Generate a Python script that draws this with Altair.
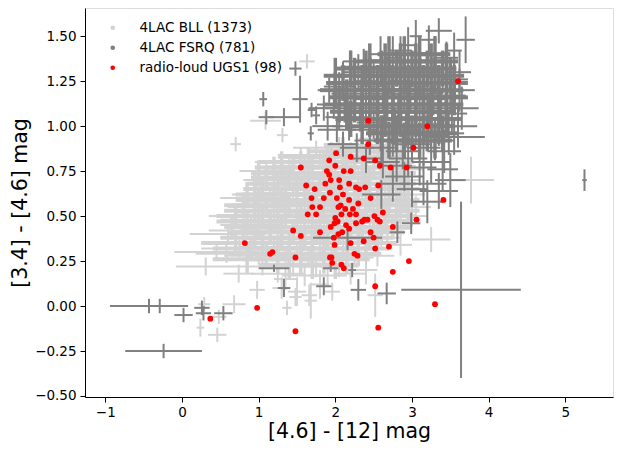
import altair as alt
import pandas as pd

# ---------------- data ----------------
# 4LAC BLL, scattered members: colour [4.6]-[12], colour [3.4]-[4.6], x error, y error
bll_x = [1.75, 2.05, 2.30, 2.55, 1.95, 2.70, 2.85, 2.45,
         1.40, 1.60, 1.80, 2.00, 2.20, 2.40, 2.60, 2.80, 1.55, 2.95,
         1.20, 1.35, 1.55, 1.70, 1.85, 2.00, 2.15, 2.30, 2.45, 2.60, 2.75, 2.90, 1.45, 1.10,
         0.95, 1.15, 1.30, 1.45, 1.60, 1.75, 1.90, 2.05, 2.20, 2.35, 2.50, 2.65, 2.80, 2.95, 3.05, 1.00,
         0.80, 1.00, 1.20, 1.35, 1.50, 1.65, 1.80, 1.95, 2.10, 2.25, 2.40, 2.55, 2.70, 2.85, 0.90, 3.00,
         0.60, 0.85, 1.05, 1.25, 1.40, 1.55, 1.70, 1.85, 2.00, 2.15, 2.30, 2.45, 2.60, 2.75, 2.85, 3.25, 2.68,
         0.45, 0.75, 1.00, 1.20, 1.35, 1.50, 1.65, 1.80, 1.95, 2.10, 2.25, 2.40, 2.55, 0.58,
         0.31, 0.74, 1.05, 1.25, 1.45, 1.60, 1.75, 1.90, 2.05, 2.20, 2.40, 1.35,
         0.98, 1.30, 1.50, 1.66, 1.96, 2.52, 1.80, 1.48, 1.68, 0.68, 0.29, 1.37,
         0.48, 0.46, 0.24,
         1.63, 0.70, 1.31, 1.09, 3.77]
bll_y = [0.88, 0.90, 0.86, 0.88, 0.84, 0.85, 0.90, 0.93,
         0.80, 0.78, 0.82, 0.78, 0.80, 0.77, 0.80, 0.78, 0.84, 0.76,
         0.70, 0.72, 0.68, 0.73, 0.68, 0.72, 0.67, 0.72, 0.68, 0.72, 0.67, 0.70, 0.66, 0.75,
         0.60, 0.62, 0.58, 0.63, 0.58, 0.62, 0.57, 0.62, 0.57, 0.62, 0.58, 0.62, 0.57, 0.62, 0.55, 0.55,
         0.50, 0.48, 0.52, 0.47, 0.53, 0.48, 0.52, 0.47, 0.52, 0.47, 0.52, 0.47, 0.52, 0.48, 0.45, 0.50,
         0.40, 0.42, 0.38, 0.42, 0.37, 0.42, 0.38, 0.42, 0.37, 0.42, 0.38, 0.42, 0.38, 0.43, 0.34, 0.37, 0.42,
         0.30, 0.32, 0.28, 0.33, 0.28, 0.32, 0.27, 0.32, 0.28, 0.32, 0.27, 0.32, 0.28, 0.29,
         0.22, 0.18, 0.22, 0.18, 0.22, 0.17, 0.22, 0.17, 0.22, 0.18, 0.20, 0.15,
         0.09, 0.10, 0.08, 0.06, 0.08, 0.06, 0.12, 0.05, 0.03, 0.01, 0.01, -0.01,
         -0.06, -0.16, -0.12,
         1.36, 0.90, 0.95, 1.03, 0.70]
bll_xerr = [0.30, 0.20, 0.25, 0.20, 0.35, 0.22, 0.20, 0.15,
            0.45, 0.40, 0.35, 0.30, 0.25, 0.25, 0.22, 0.25, 0.30, 0.20,
            0.40, 0.45, 0.45, 0.40, 0.35, 0.30, 0.30, 0.28, 0.25, 0.25, 0.25, 0.20, 0.50, 0.35,
            0.45, 0.50, 0.50, 0.45, 0.45, 0.40, 0.35, 0.30, 0.30, 0.28, 0.25, 0.25, 0.25, 0.22, 0.20, 0.40,
            0.45, 0.50, 0.50, 0.50, 0.45, 0.45, 0.40, 0.35, 0.30, 0.30, 0.28, 0.25, 0.25, 0.25, 0.40, 0.20,
            0.50, 0.50, 0.50, 0.50, 0.45, 0.45, 0.40, 0.35, 0.30, 0.30, 0.28, 0.25, 0.25, 0.22, 0.15, 0.25, 0.10,
            0.55, 0.50, 0.45, 0.45, 0.40, 0.40, 0.35, 0.35, 0.30, 0.28, 0.25, 0.25, 0.22, 0.40,
            0.39, 0.20, 0.35, 0.35, 0.30, 0.30, 0.25, 0.25, 0.25, 0.20, 0.15, 0.15,
            0.10, 0.12, 0.12, 0.10, 0.10, 0.10, 0.12, 0.08, 0.08, 0.15, 0.08, 0.06,
            0.10, 0.12, 0.05,
            0.10, 0.07, 0.07, 0.20, 0.30]
bll_yerr = [0.04, 0.04, 0.05, 0.05, 0.04, 0.06, 0.06, 0.05,
            0.04, 0.04, 0.04, 0.04, 0.04, 0.05, 0.05, 0.06, 0.04, 0.06,
            0.04, 0.04, 0.04, 0.04, 0.04, 0.04, 0.04, 0.04, 0.05, 0.05, 0.05, 0.06, 0.04, 0.04,
            0.04, 0.04, 0.04, 0.04, 0.04, 0.04, 0.04, 0.04, 0.04, 0.04, 0.05, 0.05, 0.05, 0.06, 0.06, 0.04,
            0.04, 0.04, 0.04, 0.04, 0.04, 0.04, 0.04, 0.04, 0.04, 0.04, 0.04, 0.05, 0.05, 0.05, 0.04, 0.06,
            0.05, 0.05, 0.04, 0.04, 0.04, 0.04, 0.04, 0.04, 0.04, 0.04, 0.05, 0.05, 0.05, 0.05, 0.06, 0.07, 0.06,
            0.05, 0.05, 0.05, 0.04, 0.04, 0.04, 0.05, 0.05, 0.05, 0.05, 0.05, 0.05, 0.06, 0.05,
            0.05, 0.05, 0.05, 0.05, 0.05, 0.06, 0.06, 0.06, 0.06, 0.06, 0.08, 0.06,
            0.05, 0.06, 0.08, 0.06, 0.05, 0.12, 0.08, 0.05, 0.10, 0.05, 0.04, 0.04,
            0.04, 0.04, 0.05,
            0.04, 0.04, 0.04, 0.05, 0.13]

# 4LAC BLL, members of the crowded core of the cloud
bllc_x = [2.10, 2.35, 2.60,
          1.95, 2.20, 2.45, 2.70,
          1.65, 1.90, 2.15, 2.40, 2.65,
          1.30, 1.55, 1.85, 2.10, 2.35, 2.60, 2.85,
          1.20, 1.45, 1.70, 1.95, 2.25, 2.50, 2.75,
          1.00, 1.30, 1.60, 1.85, 2.10, 2.40, 2.65, 2.90,
          1.10, 1.40, 1.65, 1.95, 2.20, 2.45, 2.70,
          0.95, 1.25, 1.50, 1.80, 2.05, 2.35, 2.60, 2.85,
          1.05, 1.35, 1.60, 1.90, 2.15, 2.40, 2.70, 2.95,
          0.85, 1.20, 1.50, 1.75, 2.00, 2.30, 2.55, 2.80,
          1.00, 1.30, 1.65, 1.95, 2.25, 2.45, 2.70, 2.90,
          0.80, 1.10, 1.40, 1.70, 2.00, 2.30, 2.60, 2.85,
          0.95, 1.25, 1.55, 1.85, 2.15, 2.40, 2.65, 2.95,
          0.70, 1.05, 1.35, 1.70, 2.00, 2.30, 2.55, 2.80,
          0.85, 1.15, 1.50, 1.80, 2.05, 2.35, 2.65,
          0.65, 1.00, 1.30, 1.60, 1.90, 2.20, 2.50, 2.75,
          0.80, 1.15, 1.45, 1.75, 2.05, 2.35, 2.60,
          0.95, 1.30, 1.60, 1.90, 2.20, 2.45,
          0.70, 1.05, 1.40, 1.70, 2.00, 2.30, 2.55,
          0.90, 1.25, 1.55, 1.85, 2.15, 2.40,
          1.10, 1.40, 1.70, 2.00, 2.30,
          0.85, 1.25, 1.55, 1.85, 2.15,
          1.40, 1.70, 2.00]
bllc_y = [0.89, 0.89, 0.89,
          0.86, 0.86, 0.86, 0.86,
          0.83, 0.83, 0.83, 0.83, 0.83,
          0.80, 0.80, 0.80, 0.80, 0.80, 0.80, 0.80,
          0.77, 0.77, 0.77, 0.77, 0.77, 0.77, 0.77,
          0.74, 0.74, 0.74, 0.74, 0.74, 0.74, 0.74, 0.74,
          0.71, 0.71, 0.71, 0.71, 0.71, 0.71, 0.71,
          0.68, 0.68, 0.68, 0.68, 0.68, 0.68, 0.68, 0.68,
          0.65, 0.65, 0.65, 0.65, 0.65, 0.65, 0.65, 0.65,
          0.62, 0.62, 0.62, 0.62, 0.62, 0.62, 0.62, 0.62,
          0.59, 0.59, 0.59, 0.59, 0.59, 0.59, 0.59, 0.59,
          0.56, 0.56, 0.56, 0.56, 0.56, 0.56, 0.56, 0.56,
          0.53, 0.53, 0.53, 0.53, 0.53, 0.53, 0.53, 0.53,
          0.50, 0.50, 0.50, 0.50, 0.50, 0.50, 0.50, 0.50,
          0.47, 0.47, 0.47, 0.47, 0.47, 0.47, 0.47,
          0.44, 0.44, 0.44, 0.44, 0.44, 0.44, 0.44, 0.44,
          0.41, 0.41, 0.41, 0.41, 0.41, 0.41, 0.41,
          0.38, 0.38, 0.38, 0.38, 0.38, 0.38,
          0.35, 0.35, 0.35, 0.35, 0.35, 0.35, 0.35,
          0.32, 0.32, 0.32, 0.32, 0.32, 0.32,
          0.29, 0.29, 0.29, 0.29, 0.29,
          0.26, 0.26, 0.26, 0.26, 0.26,
          0.23, 0.23, 0.23]
bllc_xerr = [0.25, 0.22, 0.20,
             0.30, 0.25, 0.22, 0.20,
             0.40, 0.30, 0.28, 0.25, 0.22,
             0.30, 0.35, 0.30, 0.28, 0.25, 0.22, 0.18,
             0.25, 0.35, 0.35, 0.30, 0.28, 0.25, 0.22,
             0.10, 0.35, 0.35, 0.30, 0.28, 0.25, 0.22, 0.15,
             0.20, 0.40, 0.35, 0.30, 0.28, 0.25, 0.22,
             0.10, 0.35, 0.40, 0.35, 0.30, 0.28, 0.25, 0.20,
             0.25, 0.40, 0.40, 0.35, 0.30, 0.28, 0.25, 0.15,
             0.15, 0.40, 0.45, 0.40, 0.35, 0.30, 0.28, 0.22,
             0.30, 0.45, 0.45, 0.40, 0.35, 0.30, 0.28, 0.20,
             0.25, 0.45, 0.45, 0.40, 0.35, 0.30, 0.28, 0.22,
             0.40, 0.50, 0.45, 0.40, 0.35, 0.30, 0.28, 0.15,
             0.25, 0.50, 0.50, 0.45, 0.40, 0.35, 0.30, 0.25,
             0.40, 0.50, 0.50, 0.45, 0.40, 0.35, 0.30,
             0.10, 0.40, 0.50, 0.45, 0.40, 0.35, 0.30, 0.25,
             0.20, 0.50, 0.50, 0.45, 0.40, 0.35, 0.30,
             0.45, 0.50, 0.45, 0.40, 0.35, 0.30,
             0.45, 0.50, 0.50, 0.45, 0.40, 0.35, 0.25,
             0.50, 0.50, 0.45, 0.40, 0.35, 0.30,
             0.50, 0.45, 0.40, 0.35, 0.30,
             0.45, 0.45, 0.40, 0.35, 0.30,
             0.40, 0.35, 0.30]
bllc_yerr = [0.05, 0.05, 0.05,
             0.05, 0.05, 0.05, 0.05,
             0.05, 0.05, 0.05, 0.05, 0.05,
             0.06, 0.06, 0.06, 0.06, 0.06, 0.06, 0.06,
             0.06, 0.06, 0.06, 0.06, 0.06, 0.06, 0.06,
             0.07, 0.07, 0.07, 0.07, 0.07, 0.07, 0.07, 0.07,
             0.07, 0.07, 0.07, 0.07, 0.07, 0.07, 0.07,
             0.07, 0.07, 0.07, 0.07, 0.07, 0.07, 0.07, 0.07,
             0.07, 0.07, 0.07, 0.07, 0.07, 0.07, 0.07, 0.07,
             0.07, 0.07, 0.07, 0.07, 0.07, 0.07, 0.07, 0.07,
             0.07, 0.07, 0.07, 0.07, 0.07, 0.07, 0.07, 0.07,
             0.07, 0.07, 0.07, 0.07, 0.07, 0.07, 0.07, 0.07,
             0.07, 0.07, 0.07, 0.07, 0.07, 0.07, 0.07, 0.07,
             0.07, 0.07, 0.07, 0.07, 0.07, 0.07, 0.07, 0.07,
             0.07, 0.07, 0.07, 0.07, 0.07, 0.07, 0.07,
             0.07, 0.07, 0.07, 0.07, 0.07, 0.07, 0.07, 0.07,
             0.07, 0.07, 0.07, 0.07, 0.07, 0.07, 0.07,
             0.07, 0.07, 0.07, 0.07, 0.07, 0.07,
             0.07, 0.07, 0.07, 0.07, 0.07, 0.07, 0.07,
             0.07, 0.07, 0.07, 0.07, 0.07, 0.07,
             0.07, 0.07, 0.07, 0.07, 0.07,
             0.08, 0.08, 0.08, 0.08, 0.08,
             0.08, 0.08, 0.08]

# 4LAC FSRQ, scattered members
fsrq_x = [3.22, 3.35, 3.70, 2.95, 3.05,
          2.37, 2.59, 2.75, 2.85, 3.10, 3.30, 3.45, 3.55, 2.20, 3.62,
          2.10, 2.30, 2.50, 2.65, 2.80, 2.95, 3.10, 3.25, 3.40, 3.55, 2.40, 2.85,
          1.92, 2.05, 2.20, 2.35, 2.50, 2.62, 2.75, 2.90, 3.05, 3.20, 3.35, 3.50, 3.62, 2.45, 2.98, 3.28,
          1.85, 1.98, 2.12, 2.25, 2.40, 2.55, 2.68, 2.82, 2.95, 3.10, 3.22, 3.38, 3.52, 3.65, 2.05, 2.32, 2.75, 3.05,
          1.90, 2.02, 2.18, 2.35, 2.50, 2.62, 2.78, 2.92, 3.05, 3.20, 3.35, 3.48, 3.60, 3.55,
          2.10, 2.28, 2.45, 2.60, 2.75, 2.88, 3.00, 3.15, 3.30, 3.42, 3.25,
          2.40, 2.62, 2.80, 2.95, 3.10, 3.25, 3.40, 2.90,
          2.75, 3.00, 3.15, 3.35, 3.50, 2.60, 3.20,
          1.06, 1.10, 1.33, 1.54, 1.48, 1.69, 1.68, 1.75,
          2.16, 2.81, 2.99, 2.67, 2.30, 2.22, 1.85, 1.33, 1.20, 1.94, 3.64, 5.25,
          -0.43, -0.29, -0.24, 0.02, 0.26, 0.54, 0.28]
fsrq_y = [1.48, 1.53, 1.48, 1.45, 1.50,
          1.33, 1.40, 1.38, 1.42, 1.40, 1.40, 1.38, 1.42, 1.36, 1.30,
          1.28, 1.30, 1.28, 1.30, 1.32, 1.30, 1.28, 1.30, 1.28, 1.26, 1.25, 1.25,
          1.20, 1.22, 1.18, 1.20, 1.22, 1.18, 1.20, 1.18, 1.22, 1.18, 1.20, 1.17, 1.20, 1.15, 1.15, 1.15,
          1.10, 1.12, 1.10, 1.12, 1.08, 1.10, 1.12, 1.08, 1.10, 1.12, 1.08, 1.10, 1.07, 1.10, 1.05, 1.05, 1.04, 1.05,
          1.00, 0.98, 1.00, 0.98, 1.02, 0.97, 1.00, 0.98, 1.00, 0.97, 1.00, 0.96, 1.00, 0.94,
          0.90, 0.88, 0.92, 0.88, 0.92, 0.86, 0.90, 0.88, 0.92, 0.86, 0.95,
          0.82, 0.80, 0.78, 0.82, 0.77, 0.80, 0.76, 0.72,
          0.68, 0.65, 0.68, 0.64, 0.70, 0.62, 0.58,
          1.15, 1.05, 1.05, 1.15, 1.32, 1.09, 0.96, 1.06,
          0.38, 0.41, 0.46, 0.07, 0.09, 0.20, 0.11, 0.10, 0.21, 0.21, 0.09, 0.70,
          0.00, 0.00, -0.25, -0.05, -0.01, -0.04, -0.04]
fsrq_xerr = [0.10, 0.17, 0.12, 0.10, 0.08,
             0.30, 0.15, 0.12, 0.15, 0.12, 0.18, 0.15, 0.10, 0.10, 0.15,
             0.25, 0.20, 0.18, 0.20, 0.15, 0.18, 0.20, 0.15, 0.20, 0.18, 0.15, 0.15,
             0.15, 0.20, 0.25, 0.20, 0.20, 0.18, 0.20, 0.22, 0.18, 0.20, 0.22, 0.20, 0.20, 0.18, 0.15, 0.15,
             0.20, 0.22, 0.25, 0.20, 0.22, 0.20, 0.22, 0.20, 0.22, 0.20, 0.25, 0.22, 0.20, 0.22, 0.18, 0.15, 0.15, 0.18,
             0.20, 0.25, 0.22, 0.20, 0.22, 0.20, 0.22, 0.20, 0.25, 0.22, 0.25, 0.20, 0.25, 0.40,
             0.20, 0.22, 0.20, 0.22, 0.20, 0.22, 0.25, 0.22, 0.25, 0.22, 0.20,
             0.20, 0.22, 0.20, 0.25, 0.22, 0.25, 0.20, 0.25,
             0.22, 0.20, 0.30, 0.25, 0.20, 0.25, 0.20,
             0.05, 0.10, 0.20, 0.10, 0.08, 0.05, 0.04, 0.05,
             0.45, 0.10, 0.12, 0.12, 0.10, 0.05, 0.10, 0.08, 0.20, 0.10, 0.78, 0.03,
             0.51, 0.25, 0.50, 0.12, 0.10, 0.12, 0.10]
fsrq_yerr = [0.08, 0.07, 0.13, 0.10, 0.09,
             0.10, 0.10, 0.12, 0.08, 0.10, 0.10, 0.09, 0.10, 0.06, 0.12,
             0.08, 0.10, 0.09, 0.10, 0.10, 0.10, 0.12, 0.10, 0.10, 0.10, 0.08, 0.09,
             0.07, 0.08, 0.08, 0.09, 0.10, 0.09, 0.10, 0.10, 0.10, 0.10, 0.11, 0.10, 0.12, 0.08, 0.08, 0.09,
             0.07, 0.08, 0.08, 0.09, 0.09, 0.10, 0.09, 0.10, 0.10, 0.10, 0.10, 0.11, 0.12, 0.12, 0.07, 0.08, 0.08, 0.09,
             0.08, 0.07, 0.08, 0.08, 0.09, 0.09, 0.10, 0.10, 0.10, 0.10, 0.11, 0.12, 0.12, 0.10,
             0.07, 0.08, 0.08, 0.09, 0.09, 0.10, 0.10, 0.10, 0.11, 0.12, 0.10,
             0.08, 0.09, 0.09, 0.10, 0.10, 0.12, 0.12, 0.08,
             0.10, 0.10, 0.12, 0.10, 0.15, 0.08, 0.12,
             0.04, 0.04, 0.05, 0.13, 0.04, 0.04, 0.04, 0.05,
             0.07, 0.06, 0.06, 0.06, 0.06, 0.04, 0.05, 0.05, 0.02, 0.02, 0.49, 0.06,
             0.04, 0.04, 0.04, 0.04, 0.04, 0.04, 0.04]

# 4LAC FSRQ, members of the crowded core
fsrqc_x = [2.70, 2.90, 3.10, 3.30,
           2.45, 2.65, 2.85, 3.05, 3.25, 3.45,
           2.20, 2.40, 2.60, 2.80, 3.00, 3.20, 3.40,
           2.00, 2.25, 2.45, 2.70, 2.90, 3.10, 3.30, 3.50,
           2.10, 2.35, 2.55, 2.75, 2.95, 3.15, 3.35, 3.55,
           2.00, 2.25, 2.45, 2.65, 2.85, 3.05, 3.25, 3.45,
           2.15, 2.35, 2.55, 2.75, 2.95, 3.15, 3.35, 3.55,
           2.05, 2.25, 2.45, 2.65, 2.85, 3.05, 3.25, 3.45,
           2.15, 2.35, 2.55, 2.75, 2.95, 3.15, 3.35,
           2.20, 2.45, 2.65, 2.85, 3.05, 3.25, 3.45,
           2.35, 2.55, 2.75, 2.95, 3.15, 3.35,
           2.60, 2.80, 3.00, 3.20, 3.40,
           2.70, 2.90, 3.10, 3.30]
fsrqc_y = [1.40, 1.40, 1.40, 1.40,
           1.36, 1.36, 1.36, 1.36, 1.36, 1.36,
           1.32, 1.32, 1.32, 1.32, 1.32, 1.32, 1.32,
           1.28, 1.28, 1.28, 1.28, 1.28, 1.28, 1.28, 1.28,
           1.24, 1.24, 1.24, 1.24, 1.24, 1.24, 1.24, 1.24,
           1.20, 1.20, 1.20, 1.20, 1.20, 1.20, 1.20, 1.20,
           1.16, 1.16, 1.16, 1.16, 1.16, 1.16, 1.16, 1.16,
           1.12, 1.12, 1.12, 1.12, 1.12, 1.12, 1.12, 1.12,
           1.08, 1.08, 1.08, 1.08, 1.08, 1.08, 1.08,
           1.04, 1.04, 1.04, 1.04, 1.04, 1.04, 1.04,
           1.00, 1.00, 1.00, 1.00, 1.00, 1.00,
           0.96, 0.96, 0.96, 0.96, 0.96,
           0.92, 0.92, 0.92, 0.92]
fsrqc_xerr = [0.15, 0.18, 0.15, 0.20,
              0.20, 0.18, 0.20, 0.18, 0.20, 0.15,
              0.20, 0.22, 0.20, 0.18, 0.20, 0.22, 0.18,
              0.15, 0.22, 0.20, 0.22, 0.20, 0.22, 0.20, 0.18,
              0.22, 0.20, 0.22, 0.20, 0.22, 0.20, 0.22, 0.18,
              0.20, 0.22, 0.20, 0.22, 0.20, 0.22, 0.20, 0.22,
              0.22, 0.20, 0.22, 0.20, 0.22, 0.20, 0.22, 0.18,
              0.20, 0.22, 0.20, 0.22, 0.20, 0.22, 0.20, 0.22,
              0.22, 0.20, 0.22, 0.20, 0.22, 0.20, 0.22,
              0.20, 0.22, 0.20, 0.22, 0.20, 0.22, 0.20,
              0.22, 0.20, 0.22, 0.20, 0.22, 0.20,
              0.20, 0.22, 0.20, 0.22, 0.20,
              0.20, 0.22, 0.20, 0.22]
fsrqc_yerr = [0.10, 0.10, 0.10, 0.10,
              0.10, 0.10, 0.10, 0.10, 0.10, 0.10,
              0.10, 0.10, 0.10, 0.10, 0.10, 0.10, 0.10,
              0.10, 0.10, 0.10, 0.10, 0.10, 0.10, 0.10, 0.10,
              0.10, 0.10, 0.10, 0.10, 0.10, 0.10, 0.10, 0.10,
              0.10, 0.10, 0.10, 0.10, 0.10, 0.10, 0.10, 0.10,
              0.10, 0.10, 0.10, 0.10, 0.10, 0.10, 0.10, 0.10,
              0.10, 0.10, 0.10, 0.10, 0.10, 0.10, 0.10, 0.10,
              0.10, 0.10, 0.10, 0.10, 0.10, 0.10, 0.10,
              0.10, 0.10, 0.10, 0.10, 0.10, 0.10, 0.10,
              0.10, 0.10, 0.10, 0.10, 0.10, 0.10,
              0.10, 0.10, 0.10, 0.10, 0.10,
              0.10, 0.10, 0.10, 0.10]

# radio-loud UGS1 (98)
ugs_x = [3.60, 2.43, 3.20, 2.43, 3.02, 2.01, 2.20, 2.37, 2.52, 1.92,
         2.00, 2.58, 2.72, 2.93, 1.55, 1.89, 2.11, 2.20, 1.92, 1.94,
         1.87, 2.18, 1.62, 1.73, 2.06, 2.27, 2.31, 2.39, 2.56, 1.93,
         1.69, 2.02, 2.18, 2.46, 3.41, 2.07, 1.80, 2.13, 2.04, 2.23,
         1.64, 1.75, 2.00, 2.08, 2.19, 2.27, 2.62, 2.38, 2.42, 2.51,
         2.55, 3.06, 2.03, 2.14, 2.27, 2.58, 2.75, 1.45, 1.99, 1.55,
         1.80, 1.94, 2.04, 2.09, 2.18, 2.46, 2.50, 2.37, 2.20, 1.99,
         2.70, 2.52, 0.82, 1.15, 1.48, 1.93, 2.25, 2.29, 1.96, 2.08,
         2.11, 2.96, 2.75, 2.52, 0.98, 3.30, 2.56, 1.48, 0.37, 1.95,
         1.18, 2.10, 1.85, 2.30, 2.05, 1.70, 2.35, 1.98]
ugs_y = [1.25, 1.03, 1.00, 0.90, 0.88, 0.85, 0.83, 0.82, 0.81, 0.81,
         0.78, 0.78, 0.77, 0.77, 0.77, 0.75, 0.75, 0.75, 0.73, 0.70,
         0.68, 0.68, 0.67, 0.65, 0.66, 0.66, 0.65, 0.66, 0.67, 0.63,
         0.60, 0.60, 0.59, 0.60, 0.59, 0.56, 0.55, 0.54, 0.55, 0.54,
         0.51, 0.51, 0.49, 0.51, 0.51, 0.51, 0.52, 0.48, 0.48, 0.50,
         0.48, 0.48, 0.47, 0.45, 0.46, 0.47, 0.44, 0.42, 0.46, 0.39,
         0.41, 0.44, 0.40, 0.41, 0.43, 0.41, 0.38, 0.36, 0.35, 0.34,
         0.33, 0.32, 0.35, 0.29, 0.27, 0.27, 0.29, 0.28, 0.24, 0.23,
         0.21, 0.25, 0.19, 0.11, -0.01, 0.01, -0.12, -0.14, -0.07, 0.27,
         0.30, 0.62, 0.60, 0.57, 0.70, 0.55, 0.47, 0.38]

labels = ["4LAC BLL (1373)", "4LAC FSRQ (781)", "radio-loud UGS1 (98)"]
colors = ["#d3d3d3", "#808080", "#ff0000"]

x_ticks = [-1, 0, 1, 2, 3, 4, 5]
y_ticks = [-0.5, -0.25, 0.0, 0.25, 0.5, 0.75, 1.0, 1.25, 1.5]


def err_frame(x, y, xe, ye):
    df = pd.DataFrame({"x": x, "y": y, "xe": xe, "ye": ye})
    df["xlo"] = df.x - df.xe
    df["xhi"] = df.x + df.xe
    df["ylo"] = df.y - df.ye
    df["yhi"] = df.y + df.ye
    return df


bll = err_frame(bll_x, bll_y, bll_xerr, bll_yerr)
bllc = err_frame(bllc_x, bllc_y, bllc_xerr, bllc_yerr)
fsrq = err_frame(fsrq_x, fsrq_y, fsrq_xerr, fsrq_yerr)
fsrqc = err_frame(fsrqc_x, fsrqc_y, fsrqc_xerr, fsrqc_yerr)
ugs = pd.DataFrame({"x": ugs_x, "y": ugs_y, "series": labels[2]})

FONT = "DejaVu Sans"
xscale = alt.Scale(domain=[-1.265, 5.622], nice=False, zero=False)
yscale = alt.Scale(domain=[-0.5056, 1.6567], nice=False, zero=False)

xaxis = alt.Axis(values=x_ticks, format="d", title="[4.6] - [12] mag", grid=False,
                 titleFontSize=20.5, titleFontWeight="normal", titleFont=FONT,
                 labelFont=FONT, labelFontSize=13.5, labelColor="black", titleColor="black",
                 tickColor="black", domainColor="black", tickSize=5, labelPadding=3,
                 titlePadding=3)
yaxis = alt.Axis(values=y_ticks, format=".2f", title="[3.4] - [4.6] mag", grid=False,
                 titleFontSize=20.5, titleFontWeight="normal", titleFont=FONT,
                 labelFont=FONT, labelFontSize=13.5, labelColor="black", titleColor="black",
                 tickColor="black", domainColor="black", tickSize=5, labelPadding=4,
                 titlePadding=4)


def err_layers(df, color, hw, vw):
    h = alt.Chart(df).mark_rule(color=color, strokeWidth=hw, clip=True).encode(
        x=alt.X("xlo:Q", scale=xscale, axis=xaxis), x2="xhi:Q",
        y=alt.Y("y:Q", scale=yscale, axis=yaxis))
    v = alt.Chart(df).mark_rule(color=color, strokeWidth=vw, clip=True).encode(
        x=alt.X("x:Q", scale=xscale, axis=xaxis),
        y=alt.Y("ylo:Q", scale=yscale, axis=yaxis), y2="yhi:Q")
    return [h, v]


pts = alt.Chart(ugs).mark_circle(size=34, opacity=1, clip=True).encode(
    x=alt.X("x:Q", scale=xscale, axis=xaxis),
    y=alt.Y("y:Q", scale=yscale, axis=yaxis),
    color=alt.Color("series:N", scale=alt.Scale(domain=labels, range=colors),
                    legend=alt.Legend(title=None, orient="none", legendX=21, legendY=13,
                                      symbolType="circle", symbolSize=22,
                                      symbolOpacity=1, symbolStrokeWidth=0,
                                      labelFont=FONT, labelFontSize=13.5, labelColor="black",
                                      labelOffset=20, rowPadding=5, padding=0)))

chart = alt.layer(
    *err_layers(bllc, colors[0], 4, 3.5), *err_layers(bll, colors[0], 2, 2),
    *err_layers(fsrqc, colors[1], 4, 3.5), *err_layers(fsrq, colors[1], 2, 2),
    pts,
).properties(
    width=528, height=389,
    autosize=alt.AutoSizeParams(type="none"),
    padding={"left": 77, "top": 0, "right": 6, "bottom": 52},
).configure_view(stroke="black", strokeWidth=1).configure(background="white")

chart.save("out.html", embed_options={"renderer": "svg", "actions": False})
